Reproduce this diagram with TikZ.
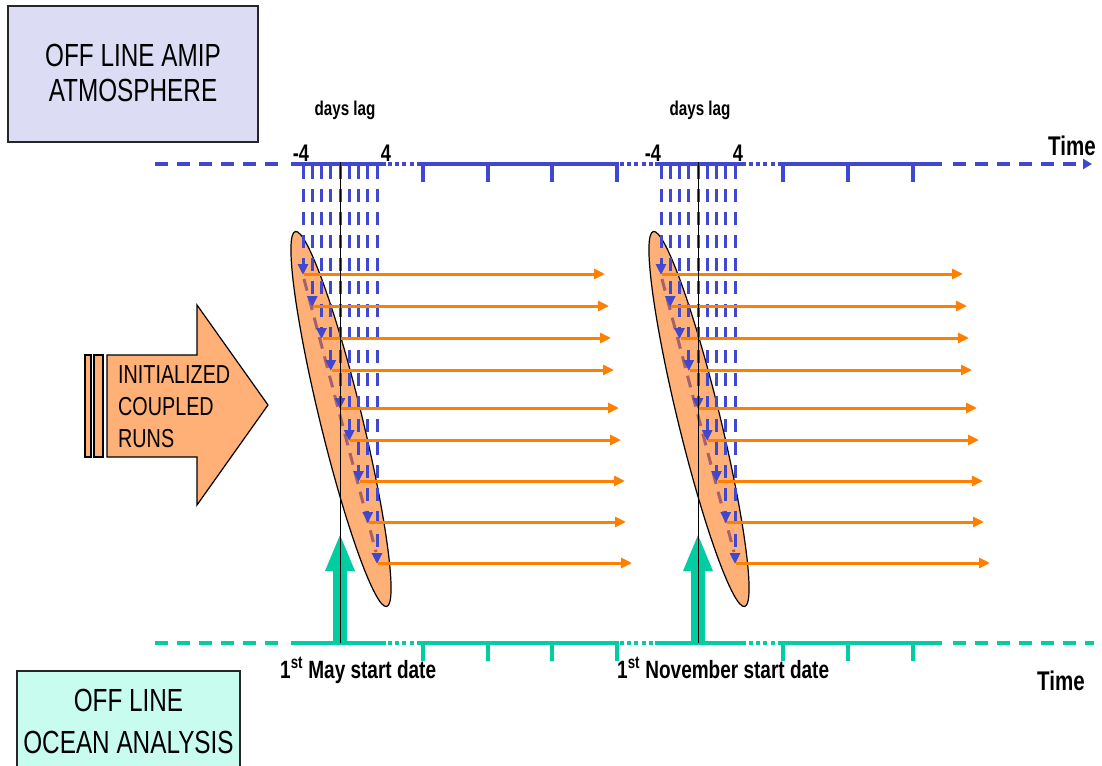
\documentclass[tikz,border=0pt]{standalone}
\usepackage{fontspec}
\setmainfont[FakeStretch=0.76]{Liberation Sans}
\usetikzlibrary{arrows.meta}
\definecolor{atmo}{RGB}{64,72,208}
\definecolor{ocean}{RGB}{0,206,162}
\definecolor{runorange}{RGB}{255,128,0}
\definecolor{runfill}{RGB}{255,176,118}
\definecolor{lagbrown}{RGB}{168,96,108}
\definecolor{atmobox}{RGB}{220,220,244}
\definecolor{oceanbox}{RGB}{200,252,238}
\begin{document}
\begin{tikzpicture}[x=1pt,y=-1pt,
  panel/.style={draw=black!85, line width=1.2pt, inner sep=0pt},
  paneltext/.style={font=\fontsize{32}{36}\selectfont, anchor=base, inner sep=0pt},
  runtext/.style={font=\fontsize{26}{30}\selectfont, anchor=base west, inner sep=0pt},
  boldlabel/.style={font=\bfseries\fontsize{25}{28}\selectfont, anchor=base, inner sep=0pt},
  laglabel/.style={font=\bfseries\fontsize{20}{24}\selectfont, anchor=base, inner sep=0pt},
  axis/.style={line width=3.5pt},
  axisdash/.style={axis, dash pattern=on 13pt off 9pt},
  axisdot/.style={axis, dash pattern=on 4pt off 3.2pt},
  lagline/.style={atmo, line width=3pt, dash pattern=on 13pt off 10pt,
    -{Triangle[width=10pt,length=11pt]}},
  runline/.style={runorange, line width=3pt, -{Triangle[width=10pt,length=11pt]}},
  windowfill/.style={fill=runfill, draw=black, line width=1.2pt},
  guide/.style={black, line width=1pt},
]
\useasboundingbox (0,0) rectangle (1102,765);
\clip (0,0) rectangle (1102,765);

% ---- source panels ----
\node[panel, fill=atmobox, minimum width=250pt, minimum height=136pt] (atmobox) at (133,74) {};
\node[paneltext] (atmo1) at (133,67) {OFF LINE AMIP};
\node[paneltext] (atmo2) at (133,102) {ATMOSPHERE};

\node[panel, fill=oceanbox, minimum width=223pt, minimum height=110pt] (oceanbox) at (128.5,726) {};
\node[paneltext] (ocean1) at (128.5,711) {OFF LINE};
\node[paneltext] (ocean2) at (128.5,753) {OCEAN ANALYSIS};

% ---- coupled-runs block arrow ----
\filldraw[windowfill] (85,355) rectangle (91,457);
\filldraw[windowfill] (94,355) rectangle (103,457);
\filldraw[windowfill] (107,355) -- (197,355) -- (197,305) -- (268,405)
  -- (197,505) -- (197,457) -- (107,457) -- cycle;
\node[runtext] (run1) at (118,383) {INITIALIZED};
\node[runtext] (run2) at (118,415) {COUPLED};
\node[runtext] (run3) at (118,447) {RUNS};

% ---- atmosphere time axis ----
\begin{scope}[atmo]
  \draw[axisdash] (155,164) -- (284,164);
  \draw[axis] (291,164) -- (386,164);
  \draw[axisdot] (388,164) -- (421,164);
  \draw[axis] (423,182) -- (423,164) -- (617,164) -- (617,182);
  \draw[axis] (488,164) -- (488,182);
  \draw[axis] (552,164) -- (552,182);
  \draw[axisdot] (620,164) -- (653,164);
  \draw[axis] (655,164) -- (746,164);
  \draw[axisdot] (749,164) -- (781,164);
  \draw[axis] (783,182) -- (783,164) -- (942,164);
  \draw[axis] (848,164) -- (848,182);
  \draw[axis] (913,164) -- (913,182);
  \draw[axisdash, -{Triangle[width=10pt,length=9pt]}] (953,164) -- (1092,164);
\end{scope}
\node[boldlabel, font=\bfseries\fontsize{27}{30}\selectfont, anchor=base west] (timetop) at (1048,155) {Time};

% ---- ocean time axis ----
\begin{scope}[ocean]
  \draw[axisdash] (155,643) -- (284,643);
  \draw[axis] (291,643) -- (386,643);
  \draw[axisdot] (388,643) -- (421,643);
  \draw[axis] (423,661) -- (423,643) -- (617,643) -- (617,661);
  \draw[axis] (488,643) -- (488,661);
  \draw[axis] (552,643) -- (552,661);
  \draw[axisdot] (620,643) -- (653,643);
  \draw[axis] (655,643) -- (746,643);
  \draw[axisdot] (749,643) -- (781,643);
  \draw[axis] (783,661) -- (783,643) -- (942,643);
  \draw[axis] (848,643) -- (848,661);
  \draw[axis] (913,643) -- (913,661);
  \draw[axisdash] (953,643) -- (1094,643);
\end{scope}
\node[boldlabel, font=\bfseries\fontsize{27}{30}\selectfont, anchor=base west] (timebot) at (1037,690) {Time};

% ---- the two start dates ----
\foreach \g/\tag in {0/may,358/nov}{
  % ocean initial state arrow
  \fill[ocean] (333+\g,643) -- (333+\g,571) -- (325+\g,571) -- (340+\g,535)
    -- (355+\g,571) -- (347+\g,571) -- (347+\g,643) -- cycle;
  % ensemble window
  \filldraw[windowfill, rotate around={-76.3:(341+\g,419)}]
    (341+\g,419) ellipse [x radius=193pt, y radius=21pt];
  \draw[lagbrown, line width=3pt, dash pattern=on 12pt off 8pt]
    (304+\g,279) -- (376+\g,552);
  % lagged atmospheric initial dates
  \foreach \i/\r/\e in {0/274/605,1/306/609,2/338/611,3/370/614,4/408/619,
                        5/440/621,6/481/625,7/522/626,8/563/632}{
    \pgfmathsetmacro\lx{303+9.25*\i+\g}
    \coordinate (lagtop-\tag-\i) at (\lx,166);
    \coordinate (lagend-\tag-\i) at (\lx,\r+1);
    \draw[lagline] (lagtop-\tag-\i) -- (lagend-\tag-\i);
  }
  % coupled forecasts
  \foreach \i/\r/\e in {0/274/605,1/306/609,2/338/611,3/370/614,4/408/619,
                        5/440/621,6/481/625,7/522/626,8/563/632}{
    \pgfmathsetmacro\lx{303+9.25*\i+\g}
    \coordinate (runstart-\tag-\i) at (\lx+1,\r);
    \coordinate (runend-\tag-\i) at (\e+\g,\r);
    \draw[runline] (runstart-\tag-\i) -- (runend-\tag-\i);
  }
  % start date guide
  \coordinate (guidetop-\tag) at (340+\g,162);
  \coordinate (guidebot-\tag) at (340+\g,643);
  \draw[guide] (guidetop-\tag) -- (guidebot-\tag);
}

% ---- labels ----
\node[laglabel] (lagmay) at (345,116) {days lag};
\node[laglabel] (lagnov) at (700,116) {days lag};
\node[boldlabel, font=\bfseries\fontsize{24}{28}\selectfont] (m4a) at (301,161) {-4};
\node[boldlabel, font=\bfseries\fontsize{24}{28}\selectfont] (p4a) at (386,161) {4};
\node[boldlabel, font=\bfseries\fontsize{24}{28}\selectfont] (m4b) at (653,161) {-4};
\node[boldlabel, font=\bfseries\fontsize{24}{28}\selectfont] (p4b) at (738,161) {4};
\node[boldlabel, anchor=base west] (maydate) at (280,678) {1\textsuperscript{st} May start date};
\node[boldlabel, anchor=base west] (novdate) at (617,678) {1\textsuperscript{st} November start date};
\end{tikzpicture}
\end{document}
